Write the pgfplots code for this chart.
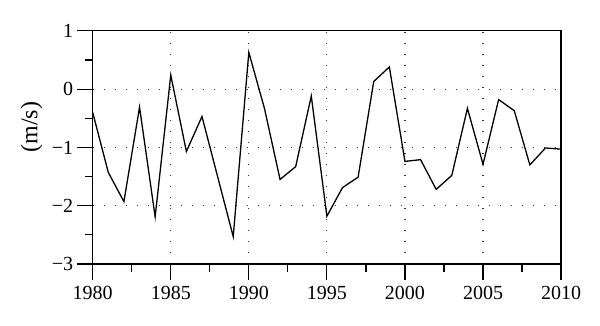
\documentclass[border=0pt]{standalone}
\usepackage{fontspec}
\setmainfont{Liberation Serif}
\usepackage{pgfplots}
\pgfplotsset{compat=1.18}
\begin{document}
\begin{tikzpicture}
\useasboundingbox (-46.35pt,-31pt) rectangle (253.65pt,132pt);
\begin{axis}[
  at={(0,0)}, anchor=south west,
  scale only axis,
  width=234.2pt, height=116.6pt,
  xmin=1980, xmax=2010, ymin=-3, ymax=1,
  xtick={1980,1985,...,2010},
  xticklabels={1980,1985,1990,1995,2000,2005,2010},
  ytick={-3,-2,-1,0,1},
  yticklabels={−3,−2,−1,0,1},
  minor x tick num=1, minor y tick num=1,
  tick align=outside,
  xtick pos=left, ytick pos=left,
  major tick length=7.8pt, minor tick length=4pt,
  tick style={black, line width=0.6pt},
  axis line style={line width=0.6pt},
  grid=major,
  major grid style={black!80, line width=0.6pt, dash pattern=on 0.6pt off 4.9pt},
  ticklabel style={font=\fontsize{10}{11}\selectfont},
  yticklabel shift=-1.5pt,
  ylabel={(m/s)},
  ylabel style={at={(rel axis cs:-0.1302,0.587)}, anchor=center, font=\fontsize{12}{14}\selectfont},
]
\addplot[black, line width=0.65pt] coordinates {
(1980,-0.40) (1981,-1.43) (1982,-1.93) (1983,-0.31) (1984,-2.19)
(1985,0.24) (1986,-1.07) (1987,-0.47) (1988,-1.50) (1989,-2.53)
(1990,0.63) (1991,-0.33) (1992,-1.55) (1993,-1.33) (1994,-0.12)
(1995,-2.18) (1996,-1.69) (1997,-1.51) (1998,0.13) (1999,0.38)
(2000,-1.24) (2001,-1.21) (2002,-1.72) (2003,-1.48) (2004,-0.33)
(2005,-1.29) (2006,-0.18) (2007,-0.37) (2008,-1.30) (2009,-1.01)
(2010,-1.03)
};
\end{axis}
\end{tikzpicture}
\end{document}
